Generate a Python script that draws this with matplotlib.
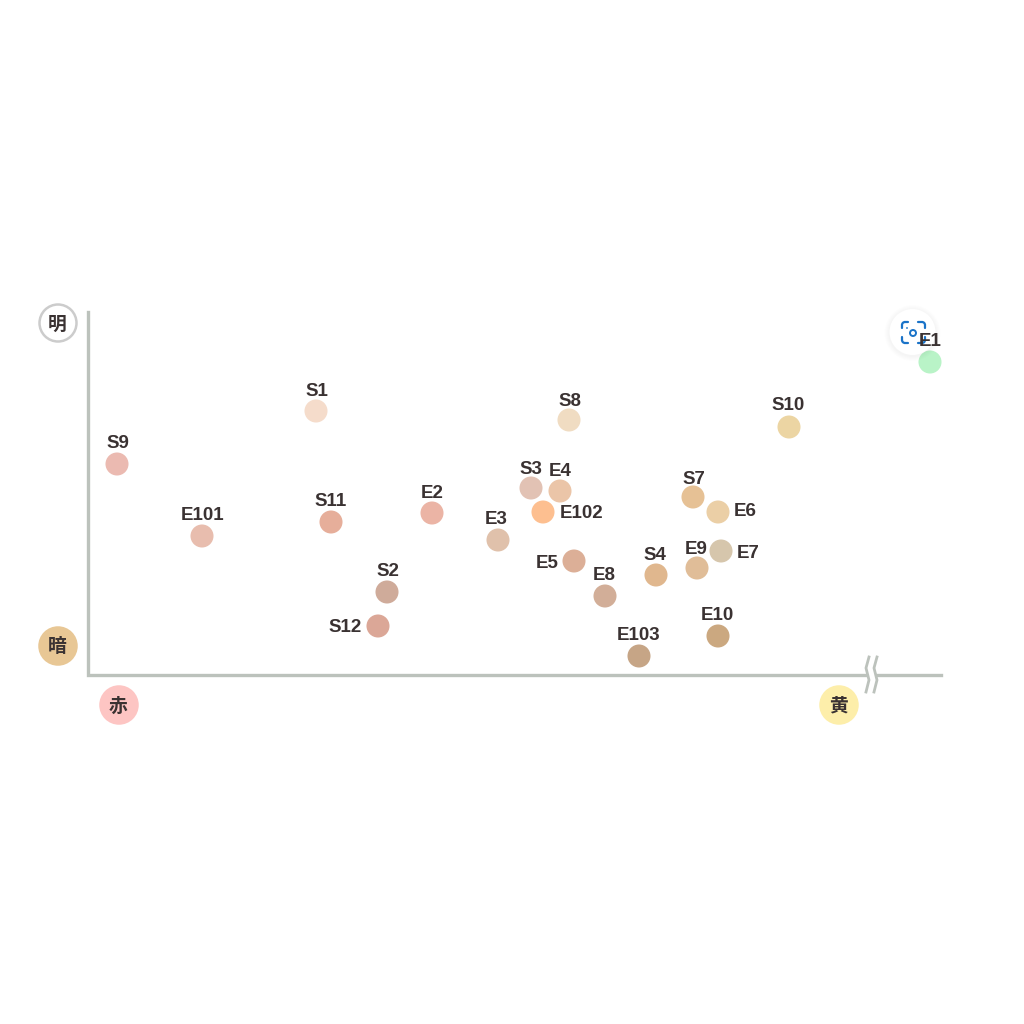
import matplotlib
matplotlib.use("Agg")
from matplotlib import pyplot as plt
from matplotlib.patches import Circle, Arc

plt.rcParams['font.family'] = ['Liberation Sans', 'Noto Sans CJK JP', 'DejaVu Sans']

# everything in its own pixel coordinates
names = ['S1', 'S8', 'S10', 'S9', 'E101', 'S11', 'E2', 'E3', 'S3', 'E4', 'E102', 'S7', 'E6',
	'S2', 'S12', 'E5', 'E8', 'S4', 'E9', 'E7', 'E103', 'E10', 'E1']
xs = [316, 569, 789, 117, 202, 331, 432, 498, 531, 560, 543, 693, 718,
	387, 378, 574, 605, 656, 697, 721, 639, 718, 930]
ys = [411, 420, 427, 464, 536, 522, 513, 540, 488, 491, 512, 497, 512,
	592, 626, 561, 596, 575, 568, 551, 656, 636, 362]
colors = ['#f5dccb', '#f0dcc2', '#ecd5a3', '#ebbab1', '#e8bdae', '#e6ae9a', '#ebb4a5', '#e0c1ab',
	'#e2c2b4', '#ebc5a8', '#fdbf90', '#e6c195', '#ebcfa6',
	'#cfab9a', '#dba797', '#dcaf97', '#d2ae98', '#e0b78e', '#e0bd98', '#d6c6ac', '#c6a586', '#cba880', '#b9f3c7']
label_xs = [316, 569, 788, 117, 202, 330, 432, 496, 530, 560, 581, 693, 745,
	387, 345, 547, 604, 654, 696, 748, 638, 717, 930]
label_ys = [391, 401, 406, 443, 515, 501, 493, 519, 469, 471, 513, 479, 512,
	571, 628, 563, 576, 556, 549, 553, 635, 615, 341]

badge_names = ['明', '暗', '赤', '黄']
badge_xs = [58, 58, 119, 839]
badge_ys = [323, 646, 705, 705]
badge_colors = ['white', '#e8c795', '#fdc5c3', '#fdeeaa']
badge_edges = ['#cccccc', '#e8c795', '#fdc5c3', '#fdeeaa']

axis_color = '#bcc2bc'
text_color = '#3a3232'
icon_color = '#1a73c8'

fig = plt.figure(figsize=(10.24, 10.24), dpi=100)
ax = fig.add_axes([0, 0, 1, 1])
ax.set_xlim(0, 1024)
ax.set_ylim(1024, 0)
ax.axis('off')

# axes lines with the break on x
ax.plot([88, 88, 865], [312, 675, 675], color=axis_color, lw=2.4, solid_joinstyle='miter', zorder=1)
ax.plot([877, 941], [675, 675], color=axis_color, lw=2.4, zorder=1)
for dx in [0, 8]:
	ax.plot([869+dx, 866+dx, 869+dx, 866+dx], [657, 668, 680, 692], color=axis_color, lw=2, zorder=1)

for i in range(len(badge_names)):
	ax.add_patch(Circle((badge_xs[i], badge_ys[i]), 18.5, facecolor=badge_colors[i],
		edgecolor=badge_edges[i], lw=1.8, zorder=2))
	ax.text(badge_xs[i]-1, badge_ys[i]-1, badge_names[i], ha='center', va='center_baseline',
		fontsize=13.5, fontweight='bold', color=text_color, zorder=3, family=['Noto Sans CJK JP', 'DejaVu Sans'])

ax.scatter(xs, ys, s=275, c=colors, linewidths=0, zorder=2)

# the lens button sitting on top of the picture
for r in [28, 27, 26, 25, 24]:
	ax.add_patch(Circle((912.5, 333), r, facecolor='black', alpha=0.006, lw=0, zorder=4))
ax.add_patch(Circle((912.5, 332), 23, facecolor='white', lw=0, zorder=4))
ax.add_patch(Circle((913, 333), 3, facecolor='none', edgecolor=icon_color, lw=1.4, zorder=5))
ax.add_patch(Circle((907, 328), 0.9, facecolor=icon_color, lw=0, zorder=5))
for cx, cy, t1, t2 in [(905, 325, 180, 270), (922, 325, 270, 360), (905, 340, 90, 180), (922, 340, 0, 90)]:
	ax.add_patch(Arc((cx, cy), 6, 6, theta1=t1, theta2=t2, color=icon_color, lw=1.6, zorder=5))
for x0, x1, y0, y1 in [(902, 902, 325, 328), (925, 925, 325, 328), (902, 902, 337, 340), (925, 925, 337, 340),
	(905, 908, 322, 322), (918, 922, 322, 322), (905, 908, 343, 343), (918, 922, 343, 343)]:
	ax.plot([x0, x1], [y0, y1], color=icon_color, lw=1.6, zorder=5, solid_capstyle='round')

for i in range(len(names)):
	ax.text(label_xs[i]+0.5, label_ys[i], names[i], ha='center', va='center', fontsize=13.5,
		fontweight='bold', color=text_color, zorder=6)

plt.savefig('out.png', dpi=100)
